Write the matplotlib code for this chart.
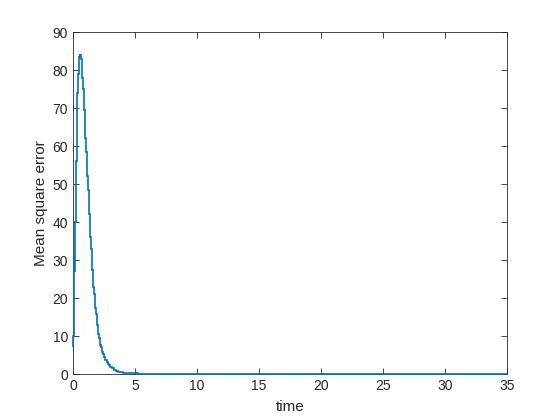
import matplotlib
matplotlib.use("Agg")
import matplotlib.pyplot as plt

# step start times and values (value holds until next time)
times = [0.00, 0.03, 0.06, 0.10, 0.15, 0.20, 0.25, 0.30, 0.35, 0.40, 0.45, 0.50,
         0.55, 0.60, 0.65, 0.70, 0.75, 0.80, 0.85, 0.90, 0.95, 1.00, 1.05, 1.10,
         1.15, 1.20, 1.25, 1.30, 1.35, 1.40, 1.45, 1.50, 1.55, 1.60, 1.65, 1.70,
         1.75, 1.80, 1.85, 1.90, 1.95, 2.00, 2.05, 2.10, 2.15, 2.20, 2.25, 2.30,
         2.35, 2.40, 2.50, 2.60, 2.70, 2.80, 2.90, 3.00, 3.15, 3.30, 3.45, 3.60,
         3.80, 4.00, 4.50, 5.20, 35.0]
mse = [7, 10, 31, 27, 40, 48, 56, 63, 74, 79, 82, 83.5,
       84.3, 84, 83, 81, 78, 75, 72, 69.5, 66, 62, 58.5, 55,
       52, 48.5, 45.5, 42, 39, 36, 33, 30, 27.5, 25, 23, 21,
       19, 17.3, 15.7, 14.2, 12.8, 11.5, 10.4, 9.4, 8.5, 7.7, 7, 6.3,
       5.7, 5.2, 4.5, 3.8, 3.2, 2.7, 2.3, 1.9, 1.5, 1.1, 0.8, 0.6,
       0.45, 0.35, 0.3, 0.0]

xticks = [0, 5, 10, 15, 20, 25, 30, 35]
yticks = [0, 10, 20, 30, 40, 50, 60, 70, 80, 90]

plt.rcParams['font.family'] = ['Liberation Sans', 'DejaVu Sans']
fig = plt.figure(figsize=(5.6, 4.2), dpi=100)
ax = fig.add_axes([0.1304, 0.1095, 0.775, 0.8143])
ax.stairs(mse, times, color='#0072BD', linewidth=1.2, baseline=None,
          zorder=3, clip_on=False)
ax.set_xlim(0, 35)
ax.set_ylim(0, 90)
ax.set_xticks(xticks)
ax.set_yticks(yticks)
gray = '#262626'
ax.tick_params(direction='in', length=4, width=0.6, colors=gray, labelsize=10,
               top=True, right=True, labeltop=False, labelright=False)
for s in ax.spines.values():
    s.set_color(gray)
    s.set_linewidth(0.6)
ax.set_xlabel('time', fontsize=11, color=gray, labelpad=5)
ax.set_ylabel('Mean square error', fontsize=11, color=gray, labelpad=3)
fig.savefig('out.png', dpi=100)
